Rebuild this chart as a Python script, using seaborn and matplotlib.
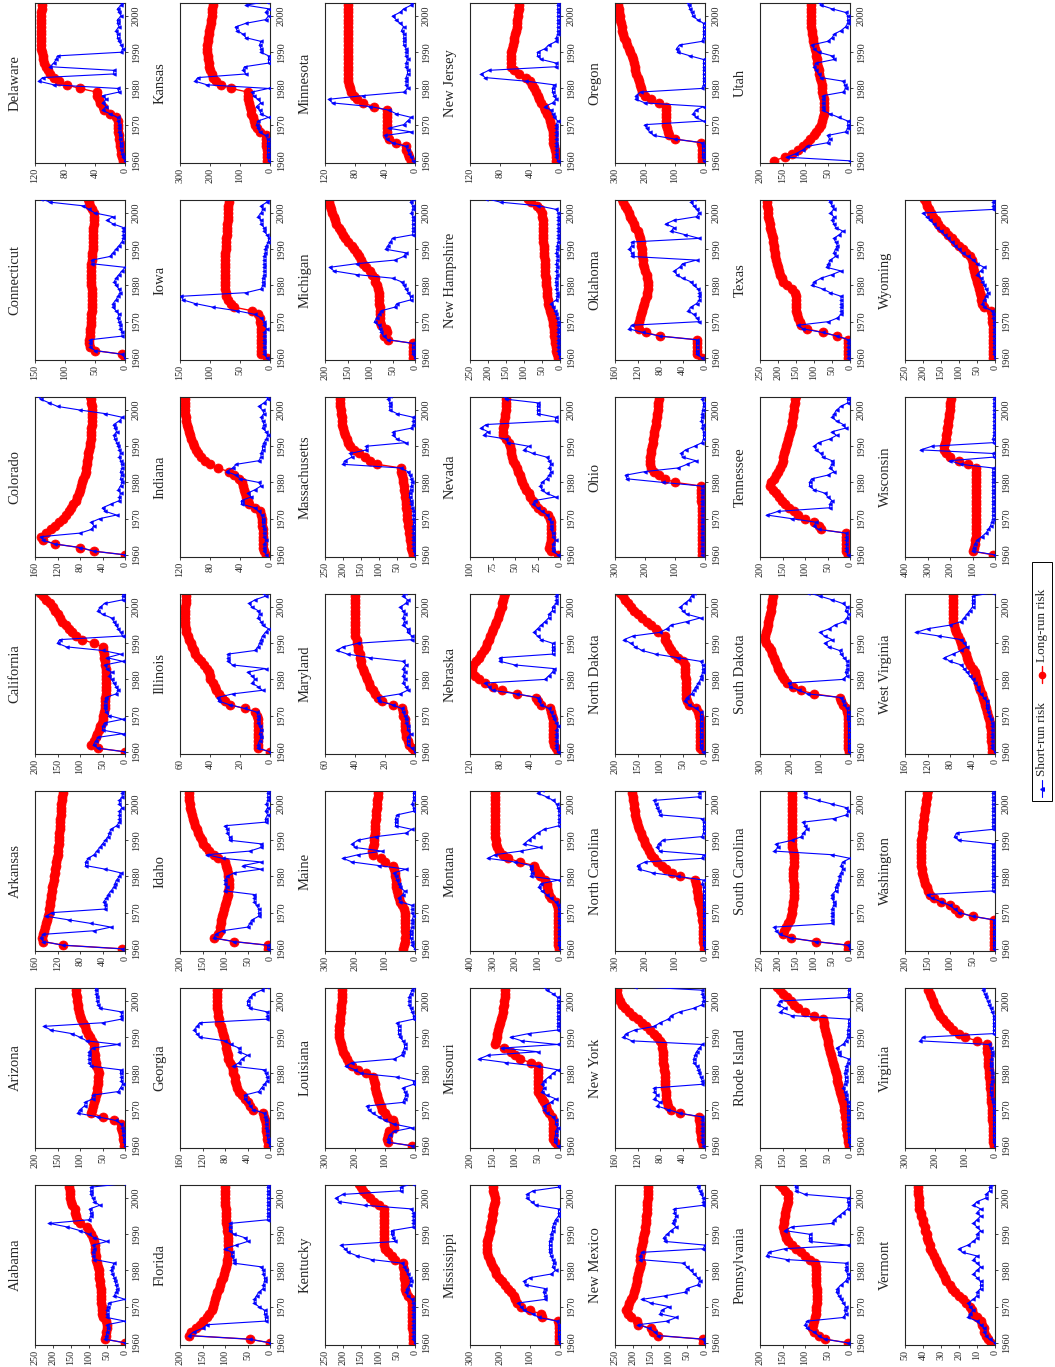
import numpy as np
import pandas as pd
import matplotlib
matplotlib.use("Agg")
import matplotlib.pyplot as plt
from matplotlib.lines import Line2D
from matplotlib.patches import Rectangle
import seaborn as sns

years = list(range(1960, 2005))

# ---- annual risk series by state (1960-2004) ----
alabama_short = [0, 55, 52, 50, 48, 50, 0, 50, 50, 50, 48, 45, 0, 30, 25, 22, 25, 28, 30, 35, 38, 35, 30, 85, 88, 90, 85, 88, 50, 85, 100, 125, 160, 210, 100, 95, 95, 98, 70, 85, 90, 95, 95, 95, 0]
alabama_long = [0, 55, 52, 52, 50, 50, 52, 62, 63, 64, 65, 66, 67, 68, 68, 68, 69, 70, 71, 72, 73, 75, 78, 80, 80, 82, 83, 84, 85, 88, 95, 100, 105, 125, 132, 135, 138, 140, 148, 150, 152, 153, 154, 155, 155]
arizona_short = [0, 2, 3, 4, 5, 6, 8, 20, 60, 105, 100, 90, 88, 72, 72, 15, 10, 5, 8, 8, 10, 10, 75, 80, 80, 80, 80, 72, 15, 85, 100, 118, 165, 180, 50, 8, 8, 8, 55, 60, 62, 63, 64, 65, 66]
arizona_long = [2, 3, 4, 5, 6, 8, 10, 25, 50, 75, 73, 71, 69, 67, 65, 63, 62, 61, 60, 59, 58, 60, 64, 65, 66, 67, 68, 69, 70, 74, 78, 82, 86, 90, 94, 97, 100, 102, 104, 105, 106, 107, 108, 109, 110]
arkansas_short = [5, 110, 145, 150, 145, 55, 25, 60, 100, 140, 130, 35, 35, 38, 33, 30, 25, 20, 18, 15, 10, 8, 35, 70, 70, 65, 55, 50, 45, 40, 35, 30, 28, 25, 15, 10, 10, 10, 10, 5, 10, 10, 5, 5, 5]
arkansas_long = [5, 110, 145, 148, 146, 144, 142, 140, 138, 137, 136, 135, 134, 133, 132, 131, 130, 129, 128, 127, 126, 125, 124, 123, 122, 121, 120, 119, 119, 118, 118, 117, 117, 116, 116, 115, 115, 114, 114, 113, 113, 112, 112, 111, 111]
california_short = [0, 60, 70, 65, 60, 5, 50, 50, 45, 5, 35, 42, 45, 45, 44, 43, 20, 15, 20, 25, 30, 35, 30, 40, 45, 5, 40, 10, 50, 130, 150, 145, 5, 10, 15, 20, 25, 30, 50, 60, 55, 45, 5, 5, 5]
california_long = [0, 60, 75, 70, 65, 62, 58, 55, 52, 50, 48, 46, 45, 45, 44, 44, 43, 43, 42, 42, 42, 42, 42, 43, 44, 45, 46, 47, 48, 50, 70, 95, 110, 118, 125, 132, 140, 145, 150, 155, 160, 167, 175, 182, 190]
colorado_short = [0, 55, 80, 125, 145, 150, 80, 60, 55, 60, 45, 15, 35, 40, 25, 10, 10, 8, 12, 8, 5, 8, 6, 8, 5, 6, 8, 10, 8, 10, 12, 15, 18, 20, 15, 18, 20, 10, 5, 35, 80, 120, 135, 150, 155]
colorado_long = [0, 55, 80, 125, 145, 150, 140, 132, 124, 117, 111, 105, 100, 96, 92, 88, 85, 82, 80, 78, 76, 74, 72, 70, 69, 68, 67, 66, 65, 64, 63, 62, 61, 61, 60, 60, 59, 59, 58, 58, 58, 59, 60, 61, 62]
connecticut_short = [0, 5, 50, 58, 58, 58, 5, 5, 8, 8, 10, 12, 10, 15, 20, 20, 15, 12, 8, 10, 15, 18, 15, 10, 5, 0, 55, 55, 25, 20, 15, 10, 5, 3, 3, 3, 3, 20, 30, 20, 50, 60, 70, 125, 140]
connecticut_long = [0, 5, 50, 58, 60, 60, 59, 58, 58, 57, 57, 56, 56, 55, 55, 55, 55, 55, 55, 55, 56, 56, 56, 56, 56, 56, 56, 55, 55, 55, 54, 54, 54, 53, 53, 53, 53, 52, 52, 52, 52, 55, 58, 60, 62]
delaware_short = [0, 3, 4, 5, 6, 6, 7, 7, 8, 8, 8, 9, 10, 20, 30, 25, 30, 25, 30, 8, 10, 95, 115, 110, 15, 15, 100, 95, 92, 90, 5, 3, 5, 8, 10, 10, 12, 8, 10, 10, 5, 8, 10, 5, 5]
delaware_long = [3, 4, 5, 6, 7, 7, 8, 8, 9, 9, 9, 10, 12, 20, 28, 30, 33, 35, 37, 38, 60, 78, 88, 95, 100, 103, 106, 108, 109, 110, 111, 112, 112, 112, 112, 112, 112, 112, 112, 112, 112, 112, 111, 111, 111]
florida_short = [0, 45, 180, 170, 150, 140, 10, 10, 12, 12, 25, 35, 35, 30, 25, 15, 15, 12, 12, 15, 15, 20, 80, 80, 85, 85, 100, 75, 50, 55, 80, 90, 90, 88, 5, 5, 5, 5, 5, 5, 5, 5, 5, 5, 5]
florida_long = [0, 45, 180, 175, 165, 155, 148, 140, 135, 130, 127, 125, 122, 120, 117, 114, 111, 108, 105, 103, 100, 98, 96, 95, 94, 93, 93, 93, 93, 93, 94, 95, 96, 97, 98, 98, 98, 98, 99, 99, 99, 99, 99, 99, 99]
georgia_short = [0, 3, 4, 5, 6, 7, 7, 8, 9, 10, 30, 35, 40, 45, 45, 20, 15, 10, 5, 5, 8, 10, 65, 55, 50, 40, 55, 55, 70, 80, 125, 130, 135, 130, 125, 5, 5, 5, 35, 40, 40, 35, 30, 15, 5]
georgia_long = [3, 4, 5, 6, 7, 8, 8, 9, 10, 12, 30, 35, 40, 45, 50, 55, 58, 60, 62, 63, 65, 66, 68, 72, 74, 75, 76, 78, 79, 80, 82, 84, 86, 88, 90, 91, 92, 93, 94, 94, 94, 94, 94, 94, 93]
idaho_short = [5, 5, 80, 125, 120, 105, 50, 45, 40, 25, 25, 25, 30, 35, 35, 35, 100, 95, 100, 100, 95, 80, 20, 60, 20, 105, 140, 45, 20, 20, 90, 90, 95, 95, 100, 10, 10, 5, 10, 5, 8, 5, 5, 5, 5]
idaho_long = [5, 5, 80, 125, 115, 112, 112, 110, 108, 106, 104, 102, 100, 98, 96, 94, 93, 92, 92, 92, 93, 94, 95, 97, 100, 115, 125, 135, 142, 148, 152, 155, 160, 163, 166, 170, 172, 174, 176, 177, 178, 179, 180, 180, 180]
illinois_short = [0, 8, 8, 7, 6, 7, 6, 7, 8, 8, 8, 9, 17, 27, 34, 35, 25, 5, 8, 12, 10, 12, 15, 3, 25, 28, 28, 28, 10, 8, 7, 6, 5, 3, 1, 5, 6, 8, 7, 8, 12, 14, 10, 3, 5]
illinois_long = [0, 8, 8, 8, 8, 8, 8, 8, 8, 8, 9, 10, 17, 27, 30, 32, 34, 36, 37, 38, 40, 40, 41, 42, 44, 46, 48, 50, 51, 52, 53, 54, 55, 56, 56, 57, 57, 57, 57, 57, 57, 56, 56, 56, 56]
indiana_short = [5, 8, 8, 8, 5, 8, 8, 8, 9, 10, 10, 11, 15, 20, 38, 38, 25, 30, 20, 12, 15, 40, 45, 58, 50, 45, 15, 12, 12, 10, 10, 8, 5, 3, 5, 10, 8, 10, 12, 8, 10, 15, 8, 3, 5]
indiana_long = [5, 8, 9, 9, 10, 10, 10, 10, 11, 11, 11, 12, 13, 20, 28, 30, 32, 33, 35, 36, 38, 42, 48, 55, 70, 80, 87, 92, 96, 99, 101, 103, 105, 107, 108, 110, 111, 112, 112, 113, 113, 113, 113, 113, 113]
iowa_short = [5, 10, 10, 10, 10, 10, 10, 10, 5, 10, 10, 15, 25, 55, 95, 125, 145, 148, 40, 15, 12, 12, 12, 10, 10, 10, 10, 10, 10, 8, 8, 6, 3, 2, 5, 10, 10, 15, 15, 20, 15, 12, 15, 5, 5]
iowa_long = [5, 15, 15, 15, 15, 15, 15, 15, 15, 15, 16, 17, 20, 30, 60, 65, 70, 73, 74, 75, 75, 75, 75, 75, 75, 75, 75, 75, 75, 75, 74, 74, 73, 73, 72, 72, 71, 71, 70, 70, 70, 70, 70, 69, 69]
kansas_short = [5, 8, 8, 8, 8, 8, 8, 15, 35, 40, 45, 40, 5, 30, 35, 45, 30, 40, 55, 60, 5, 210, 250, 240, 80, 90, 85, 5, 5, 5, 30, 30, 35, 30, 80, 90, 110, 115, 80, 15, 5, 15, 5, 80, 10]
kansas_long = [10, 10, 10, 10, 12, 12, 12, 15, 35, 45, 50, 55, 58, 62, 65, 68, 70, 72, 72, 74, 130, 165, 180, 190, 195, 200, 203, 205, 207, 208, 210, 210, 210, 208, 207, 205, 203, 200, 198, 196, 194, 193, 192, 190, 190]
kentucky_short = [0, 5, 5, 5, 5, 5, 5, 5, 5, 5, 5, 5, 8, 20, 25, 22, 15, 12, 15, 20, 25, 30, 35, 120, 160, 185, 195, 205, 55, 60, 65, 65, 5, 5, 5, 5, 5, 10, 140, 210, 220, 200, 40, 40, 5]
kentucky_long = [5, 6, 6, 6, 7, 7, 7, 7, 7, 7, 7, 7, 10, 20, 25, 27, 28, 29, 30, 30, 31, 32, 33, 55, 65, 75, 82, 85, 86, 87, 87, 87, 86, 86, 86, 86, 86, 86, 100, 115, 125, 135, 145, 150, 155]
louisiana_short = [10, 90, 90, 85, 70, 10, 70, 100, 120, 140, 155, 160, 40, 35, 30, 35, 40, 5, 5, 60, 180, 200, 230, 210, 70, 45, 40, 35, 35, 40, 50, 55, 55, 55, 60, 5, 5, 10, 15, 20, 20, 20, 15, 10, 5]
louisiana_long = [10, 90, 95, 90, 88, 70, 70, 75, 95, 100, 110, 115, 120, 125, 128, 130, 132, 135, 138, 140, 165, 190, 210, 220, 228, 235, 240, 245, 248, 250, 252, 255, 253, 252, 251, 250, 249, 248, 247, 246, 245, 245, 244, 244, 243]
maine_short = [0, 10, 10, 15, 15, 15, 10, 10, 10, 5, 10, 10, 10, 50, 55, 40, 35, 50, 55, 60, 65, 70, 30, 120, 210, 240, 190, 110, 200, 210, 190, 130, 30, 10, 65, 65, 65, 60, 5, 5, 10, 5, 5, 5, 5]
maine_long = [40, 38, 35, 32, 30, 32, 35, 33, 32, 33, 35, 38, 45, 50, 55, 58, 60, 62, 64, 65, 66, 68, 70, 72, 100, 115, 140, 142, 140, 138, 137, 136, 135, 134, 133, 132, 131, 130, 129, 128, 127, 126, 125, 125, 124]
maryland_short = [0, 2, 5, 5, 5, 3, 5, 5, 6, 6, 7, 8, 9, 15, 24, 25, 10, 5, 6, 8, 7, 8, 7, 8, 6, 8, 30, 45, 52, 48, 38, 2, 2, 5, 5, 8, 7, 8, 7, 8, 10, 6, 5, 8, 7]
maryland_long = [0, 2, 4, 5, 6, 6, 7, 7, 7, 7, 8, 8, 9, 15, 22, 25, 27, 28, 30, 31, 32, 33, 34, 35, 36, 36, 37, 37, 38, 38, 39, 39, 40, 40, 40, 40, 40, 40, 40, 40, 40, 40, 40, 40, 40]
massachusetts_short = [0, 3, 5, 5, 5, 5, 5, 5, 5, 3, 5, 5, 5, 8, 10, 12, 15, 15, 12, 10, 8, 10, 15, 20, 40, 200, 195, 175, 180, 135, 135, 25, 50, 60, 60, 10, 5, 5, 5, 50, 70, 70, 70, 75, 70]
massachusetts_long = [5, 7, 10, 12, 14, 15, 17, 18, 19, 20, 21, 22, 23, 24, 25, 26, 27, 28, 30, 31, 32, 34, 36, 38, 40, 105, 125, 140, 155, 170, 180, 185, 190, 195, 198, 200, 202, 203, 204, 205, 206, 207, 207, 208, 208]
michigan_short = [0, 5, 5, 5, 5, 60, 70, 75, 78, 80, 90, 85, 80, 75, 45, 40, 10, 10, 15, 20, 25, 30, 50, 130, 180, 190, 130, 45, 25, 20, 65, 60, 55, 50, 5, 5, 5, 5, 5, 5, 8, 5, 5, 10, 5]
michigan_long = [5, 5, 5, 5, 5, 60, 70, 62, 65, 75, 78, 78, 78, 78, 78, 79, 80, 80, 81, 82, 85, 88, 90, 95, 100, 110, 115, 120, 125, 130, 135, 140, 150, 155, 160, 165, 170, 175, 178, 181, 184, 187, 190, 192, 195]
minnesota_short = [3, 5, 8, 10, 12, 30, 38, 40, 5, 35, 15, 10, 5, 25, 35, 60, 110, 115, 70, 15, 10, 12, 12, 12, 10, 10, 12, 12, 10, 12, 12, 12, 15, 15, 15, 15, 18, 15, 20, 25, 30, 20, 15, 5, 5]
minnesota_long = [5, 8, 10, 12, 12, 25, 35, 37, 37, 37, 38, 38, 38, 38, 38, 55, 70, 78, 82, 85, 87, 88, 89, 90, 90, 90, 90, 90, 90, 90, 90, 90, 90, 90, 90, 90, 90, 90, 90, 90, 90, 90, 90, 90, 90]
mississippi_short = [0, 5, 5, 5, 5, 5, 10, 70, 90, 120, 130, 140, 50, 50, 55, 50, 115, 120, 100, 30, 15, 25, 20, 25, 30, 35, 35, 35, 35, 30, 30, 25, 25, 20, 15, 5, 5, 5, 80, 95, 110, 110, 90, 5, 5]
mississippi_long = [5, 5, 5, 5, 5, 5, 8, 60, 65, 100, 130, 145, 150, 155, 165, 175, 185, 195, 205, 212, 218, 225, 230, 235, 240, 242, 243, 243, 242, 240, 238, 235, 232, 230, 228, 226, 224, 222, 220, 218, 218, 220, 222, 224, 225]
missouri_short = [5, 12, 12, 10, 10, 5, 10, 10, 15, 30, 35, 35, 20, 10, 30, 40, 35, 40, 35, 25, 15, 5, 50, 120, 180, 160, 50, 130, 5, 85, 110, 70, 5, 5, 5, 5, 5, 5, 5, 5, 5, 5, 15, 30, 35]
missouri_long = [5, 12, 15, 15, 15, 15, 15, 15, 18, 25, 30, 32, 35, 40, 45, 48, 50, 50, 50, 50, 50, 50, 50, 65, 90, 100, 110, 125, 145, 143, 141, 139, 137, 135, 133, 131, 129, 127, 126, 125, 124, 123, 122, 122, 122]
montana_short = [0, 5, 5, 5, 5, 5, 5, 5, 5, 5, 5, 5, 10, 20, 40, 60, 80, 95, 85, 5, 130, 125, 130, 130, 200, 320, 290, 175, 90, 160, 140, 120, 100, 70, 5, 5, 5, 5, 5, 10, 15, 30, 60, 100, 80]
montana_long = [5, 8, 8, 9, 9, 10, 10, 10, 10, 10, 10, 10, 12, 20, 40, 50, 55, 58, 60, 65, 90, 100, 110, 115, 180, 230, 255, 270, 280, 283, 285, 287, 288, 289, 290, 290, 290, 290, 290, 290, 290, 290, 290, 290, 290]
nebraska_short = [3, 5, 5, 5, 5, 5, 5, 3, 5, 8, 10, 12, 15, 25, 28, 30, 58, 90, 95, 100, 20, 15, 10, 8, 60, 80, 80, 10, 10, 10, 10, 25, 30, 35, 30, 25, 20, 15, 15, 10, 10, 5, 5, 5, 5]
nebraska_long = [3, 5, 8, 10, 10, 10, 10, 10, 10, 10, 11, 12, 14, 25, 30, 32, 58, 78, 90, 100, 108, 113, 117, 118, 116, 112, 108, 105, 102, 99, 97, 95, 93, 91, 89, 87, 85, 83, 82, 80, 78, 77, 76, 75, 74]
nevada_short = [2, 8, 8, 8, 5, 8, 8, 10, 10, 10, 12, 14, 20, 25, 30, 28, 5, 15, 20, 22, 20, 15, 12, 10, 12, 10, 12, 15, 30, 40, 35, 58, 60, 85, 80, 88, 82, 5, 5, 25, 25, 25, 25, 60, 62]
nevada_long = [2, 10, 12, 11, 10, 10, 10, 10, 10, 10, 11, 13, 20, 25, 28, 30, 33, 35, 38, 40, 42, 43, 45, 47, 48, 50, 52, 53, 54, 55, 56, 57, 60, 63, 63, 63, 62, 62, 61, 61, 60, 60, 60, 60, 60]
new_hampshire_short = [0, 3, 5, 5, 5, 5, 5, 5, 5, 5, 5, 8, 10, 15, 20, 25, 10, 8, 8, 10, 10, 12, 10, 8, 10, 8, 10, 8, 8, 10, 8, 8, 5, 5, 5, 5, 5, 5, 5, 5, 5, 10, 60, 165, 205]
new_hampshire_long = [5, 8, 10, 12, 14, 15, 16, 17, 18, 19, 20, 22, 25, 28, 30, 32, 34, 35, 36, 37, 38, 39, 40, 41, 42, 42, 43, 43, 44, 44, 45, 45, 46, 46, 47, 47, 48, 48, 48, 49, 49, 55, 65, 80, 90]
new_jersey_short = [3, 5, 5, 5, 5, 5, 5, 5, 5, 5, 5, 3, 8, 10, 12, 20, 10, 5, 8, 10, 10, 8, 45, 100, 105, 95, 5, 5, 25, 30, 30, 20, 15, 5, 5, 3, 3, 3, 3, 3, 3, 3, 3, 3, 3]
new_jersey_long = [5, 5, 6, 7, 8, 9, 10, 10, 10, 11, 12, 13, 15, 18, 20, 22, 25, 28, 30, 32, 35, 37, 40, 45, 55, 62, 65, 66, 66, 66, 65, 64, 63, 62, 61, 60, 59, 58, 57, 57, 56, 56, 55, 55, 55]
new_mexico_short = [0, 5, 130, 140, 155, 185, 105, 80, 125, 120, 100, 150, 175, 110, 55, 50, 20, 15, 20, 30, 40, 50, 60, 180, 180, 175, 5, 0, 110, 115, 105, 95, 80, 90, 85, 80, 85, 85, 5, 5, 5, 10, 15, 20, 20]
new_mexico_long = [5, 5, 130, 145, 150, 185, 190, 205, 215, 220, 215, 210, 205, 200, 198, 195, 192, 190, 188, 185, 183, 180, 178, 180, 180, 178, 177, 175, 173, 171, 170, 168, 167, 165, 164, 163, 162, 161, 160, 160, 159, 158, 158, 157, 157]
new_york_short = [3, 5, 5, 5, 5, 5, 5, 5, 5, 45, 65, 85, 80, 90, 85, 90, 90, 5, 5, 8, 10, 12, 15, 20, 20, 18, 15, 10, 5, 130, 145, 140, 125, 90, 80, 65, 60, 45, 20, 5, 3, 3, 5, 5, 125]
new_york_long = [3, 5, 8, 8, 9, 9, 9, 10, 10, 45, 60, 65, 68, 69, 70, 70, 71, 71, 72, 72, 72, 73, 73, 74, 74, 75, 75, 76, 77, 80, 85, 90, 97, 105, 112, 120, 128, 135, 142, 147, 151, 154, 156, 157, 157]
north_carolina_short = [0, 5, 5, 5, 5, 5, 5, 5, 5, 5, 5, 5, 5, 5, 5, 5, 5, 5, 10, 5, 90, 175, 220, 225, 200, 10, 5, 150, 160, 155, 140, 10, 5, 5, 5, 5, 10, 150, 155, 160, 165, 170, 20, 20, 15]
north_carolina_long = [5, 5, 6, 6, 7, 7, 8, 8, 9, 10, 12, 15, 18, 20, 22, 24, 26, 28, 30, 32, 85, 110, 130, 145, 160, 170, 180, 188, 195, 200, 205, 210, 215, 220, 225, 228, 230, 232, 234, 236, 238, 240, 241, 242, 243]
north_dakota_short = [5, 10, 10, 10, 10, 10, 10, 10, 10, 10, 10, 10, 20, 35, 45, 40, 30, 25, 20, 15, 10, 8, 5, 5, 5, 10, 60, 110, 140, 155, 165, 180, 160, 100, 85, 75, 40, 10, 40, 50, 55, 45, 35, 30, 25]
north_dakota_long = [5, 12, 12, 12, 12, 12, 12, 12, 12, 12, 13, 15, 20, 35, 40, 42, 42, 43, 43, 43, 43, 44, 44, 45, 45, 50, 60, 68, 75, 80, 85, 88, 90, 105, 110, 120, 130, 140, 150, 158, 165, 172, 178, 183, 188]
ohio_short = [10, 10, 10, 10, 10, 10, 10, 10, 10, 10, 10, 10, 10, 10, 10, 10, 10, 10, 10, 10, 140, 260, 265, 200, 90, 60, 30, 75, 80, 65, 35, 10, 5, 5, 5, 10, 8, 12, 10, 10, 8, 5, 5, 10, 5]
ohio_long = [10, 10, 10, 10, 10, 10, 10, 10, 10, 10, 11, 11, 11, 11, 11, 12, 12, 12, 12, 12, 100, 135, 155, 170, 180, 185, 185, 183, 181, 179, 177, 175, 173, 171, 169, 167, 165, 163, 161, 160, 158, 157, 156, 155, 154]
oklahoma_short = [5, 15, 15, 15, 15, 15, 80, 110, 135, 130, 10, 15, 20, 30, 25, 15, 10, 10, 10, 12, 20, 25, 40, 50, 55, 45, 40, 15, 130, 130, 135, 130, 130, 10, 35, 60, 55, 70, 55, 15, 10, 15, 20, 25, 20]
oklahoma_long = [5, 15, 15, 15, 15, 15, 80, 105, 118, 120, 118, 116, 114, 112, 110, 108, 106, 104, 103, 102, 102, 102, 103, 104, 106, 108, 110, 111, 112, 112, 112, 113, 114, 115, 117, 120, 124, 127, 130, 133, 136, 139, 142, 145, 148]
oregon_short = [5, 8, 8, 8, 8, 10, 100, 170, 185, 195, 200, 5, 30, 40, 30, 5, 200, 230, 230, 215, 10, 5, 5, 5, 5, 5, 5, 5, 5, 50, 90, 95, 85, 10, 5, 5, 5, 5, 5, 25, 40, 45, 50, 55, 60]
oregon_long = [10, 10, 10, 10, 10, 12, 100, 120, 125, 128, 130, 130, 130, 130, 130, 130, 155, 180, 200, 210, 215, 218, 220, 225, 230, 232, 235, 238, 240, 245, 250, 255, 260, 265, 270, 273, 276, 278, 280, 282, 284, 286, 288, 290, 292]
pennsylvania_short = [5, 55, 70, 80, 95, 100, 95, 15, 10, 12, 10, 15, 20, 25, 30, 28, 20, 10, 5, 5, 10, 8, 10, 140, 185, 180, 145, 5, 90, 90, 90, 145, 130, 40, 35, 25, 15, 5, 3, 5, 5, 100, 120, 120, 125]
pennsylvania_long = [5, 55, 70, 80, 85, 83, 80, 78, 76, 75, 75, 74, 74, 74, 74, 74, 75, 75, 75, 75, 75, 76, 78, 90, 100, 110, 120, 130, 138, 143, 145, 147, 148, 147, 146, 145, 144, 142, 140, 138, 137, 138, 145, 152, 158]
rhode_island_short = [0, 3, 3, 3, 4, 4, 4, 5, 5, 5, 5, 5, 5, 8, 10, 12, 15, 12, 10, 10, 12, 10, 8, 5, 3, 25, 25, 30, 15, 10, 5, 5, 5, 3, 3, 3, 130, 155, 145, 160, 155, 5, 3, 3, 3]
rhode_island_long = [3, 4, 5, 6, 7, 8, 9, 10, 11, 12, 13, 14, 16, 18, 20, 22, 24, 26, 28, 30, 32, 34, 36, 38, 40, 42, 44, 46, 48, 50, 52, 54, 56, 57, 58, 60, 80, 100, 115, 125, 132, 140, 148, 155, 162]
south_carolina_short = [0, 5, 95, 165, 195, 205, 210, 50, 50, 50, 50, 50, 45, 45, 50, 50, 40, 40, 35, 30, 30, 25, 20, 25, 20, 0, 50, 210, 200, 205, 160, 135, 130, 120, 125, 130, 45, 10, 5, 10, 50, 90, 125, 125, 130]
south_carolina_long = [5, 5, 95, 165, 185, 182, 178, 172, 168, 164, 162, 160, 158, 157, 155, 155, 155, 155, 156, 157, 158, 158, 157, 156, 155, 155, 155, 158, 160, 160, 160, 160, 160, 160, 160, 160, 160, 160, 160, 160, 160, 160, 160, 160, 160]
south_dakota_short = [5, 5, 5, 5, 5, 5, 5, 5, 5, 8, 8, 8, 10, 20, 25, 30, 140, 170, 200, 205, 25, 10, 15, 10, 10, 10, 20, 30, 35, 70, 85, 60, 85, 100, 70, 50, 20, 10, 5, 15, 10, 25, 60, 100, 140]
south_dakota_long = [5, 8, 8, 8, 8, 8, 8, 8, 8, 8, 8, 10, 15, 25, 30, 35, 120, 165, 190, 210, 220, 228, 235, 240, 245, 250, 255, 260, 265, 270, 280, 285, 283, 280, 278, 275, 272, 270, 268, 265, 263, 261, 260, 258, 256]
tennessee_short = [5, 8, 8, 8, 8, 8, 8, 70, 80, 75, 130, 185, 160, 45, 45, 40, 50, 55, 80, 90, 90, 85, 50, 35, 45, 40, 40, 60, 65, 75, 80, 70, 45, 30, 40, 10, 15, 30, 40, 35, 30, 20, 5, 5, 5]
tennessee_long = [5, 8, 8, 8, 8, 8, 10, 65, 70, 80, 100, 115, 125, 135, 145, 152, 158, 165, 172, 178, 175, 170, 165, 160, 156, 152, 150, 148, 146, 144, 142, 140, 138, 136, 134, 132, 130, 128, 127, 126, 125, 124, 123, 122, 121]
texas_short = [5, 5, 5, 5, 5, 5, 35, 75, 130, 145, 60, 35, 25, 25, 25, 25, 25, 25, 55, 75, 105, 100, 80, 50, 25, 65, 60, 55, 40, 45, 40, 35, 40, 45, 30, 20, 40, 45, 50, 45, 55, 45, 50, 55, 60]
texas_long = [5, 5, 5, 5, 5, 5, 35, 75, 120, 135, 140, 145, 148, 150, 150, 150, 150, 150, 152, 160, 175, 185, 190, 195, 198, 200, 203, 205, 207, 208, 210, 212, 214, 215, 217, 219, 221, 223, 225, 227, 228, 229, 230, 230, 230]
utah_short = [0, 140, 120, 105, 95, 50, 45, 50, 10, 5, 5, 5, 25, 45, 60, 60, 60, 60, 60, 15, 10, 12, 15, 65, 70, 75, 80, 75, 35, 40, 70, 80, 85, 50, 40, 35, 20, 10, 5, 5, 5, 10, 40, 65, 70]
utah_long = [170, 145, 130, 115, 105, 95, 88, 80, 75, 70, 65, 62, 60, 58, 57, 57, 58, 58, 60, 62, 63, 63, 64, 66, 68, 70, 72, 73, 74, 75, 76, 78, 80, 82, 83, 84, 85, 86, 86, 87, 87, 87, 87, 87, 87]
vermont_short = [0, 3, 5, 6, 6, 8, 10, 15, 14, 12, 14, 15, 12, 10, 10, 8, 8, 8, 10, 12, 10, 8, 10, 12, 10, 18, 20, 15, 12, 10, 10, 8, 10, 12, 10, 8, 10, 8, 12, 10, 5, 5, 3, 3, 2]
vermont_long = [2, 4, 5, 6, 6, 7, 8, 10, 12, 13, 14, 16, 18, 20, 22, 24, 25, 27, 28, 29, 30, 31, 32, 33, 34, 35, 36, 36, 37, 38, 38, 39, 39, 40, 40, 41, 41, 42, 42, 42, 42, 43, 43, 43, 43]
virginia_short = [0, 5, 5, 5, 5, 5, 5, 5, 5, 5, 5, 5, 8, 10, 12, 15, 15, 12, 10, 10, 10, 12, 15, 15, 12, 10, 10, 15, 20, 250, 240, 5, 5, 5, 5, 5, 5, 10, 15, 20, 25, 30, 35, 40, 40]
virginia_long = [5, 6, 6, 7, 7, 8, 8, 9, 9, 10, 10, 11, 12, 13, 14, 15, 16, 17, 18, 19, 20, 21, 22, 23, 24, 25, 26, 27, 28, 60, 100, 120, 140, 155, 165, 175, 182, 190, 197, 203, 208, 213, 218, 222, 225]
washington_short = [3, 3, 3, 3, 3, 3, 3, 3, 3, 50, 80, 90, 100, 120, 140, 150, 5, 5, 5, 5, 5, 5, 5, 5, 5, 5, 5, 5, 5, 5, 80, 90, 85, 5, 5, 5, 5, 5, 5, 5, 5, 5, 5, 5, 5]
washington_long = [3, 3, 3, 3, 3, 3, 3, 3, 3, 50, 80, 90, 100, 120, 135, 145, 150, 152, 155, 158, 160, 162, 163, 164, 165, 165, 165, 165, 165, 165, 164, 163, 162, 161, 160, 159, 158, 157, 156, 155, 154, 153, 152, 151, 150]
west_virginia_short = [0, 5, 5, 5, 5, 5, 5, 5, 5, 8, 10, 12, 15, 15, 15, 20, 25, 30, 30, 35, 40, 45, 50, 55, 60, 80, 90, 75, 60, 50, 55, 60, 100, 140, 120, 80, 60, 55, 50, 45, 40, 40, 40, 40, 3]
west_virginia_long = [5, 6, 6, 7, 7, 8, 8, 9, 9, 10, 12, 14, 16, 18, 20, 22, 24, 26, 28, 30, 32, 34, 36, 40, 45, 48, 50, 52, 55, 58, 60, 62, 65, 70, 72, 73, 74, 75, 75, 75, 75, 75, 75, 75, 75]
wisconsin_short = [0, 100, 95, 90, 80, 60, 40, 30, 20, 15, 10, 10, 10, 10, 10, 10, 10, 10, 10, 10, 10, 10, 10, 10, 10, 150, 200, 5, 10, 330, 280, 5, 10, 5, 5, 5, 5, 5, 5, 5, 5, 5, 5, 5, 5]
wisconsin_long = [10, 100, 95, 90, 88, 85, 85, 85, 85, 85, 85, 85, 85, 85, 85, 85, 85, 85, 85, 85, 85, 85, 85, 85, 85, 120, 160, 200, 220, 225, 225, 222, 220, 218, 215, 212, 210, 208, 206, 204, 202, 200, 198, 196, 194]
wyoming_short = [0, 3, 3, 3, 3, 3, 3, 3, 3, 3, 3, 5, 5, 8, 30, 35, 30, 25, 20, 25, 30, 35, 40, 50, 40, 30, 50, 60, 75, 90, 100, 110, 120, 130, 140, 150, 160, 170, 180, 190, 200, 5, 5, 5, 5]
wyoming_long = [5, 5, 5, 5, 5, 5, 5, 6, 6, 6, 7, 8, 9, 10, 30, 35, 38, 40, 42, 45, 48, 50, 52, 55, 58, 60, 62, 65, 70, 80, 90, 100, 110, 120, 130, 140, 150, 158, 165, 172, 178, 183, 188, 193, 198]

states = ["Alabama", "Arizona", "Arkansas", "California", "Colorado", "Connecticut", "Delaware",
          "Florida", "Georgia", "Idaho", "Illinois", "Indiana", "Iowa", "Kansas",
          "Kentucky", "Louisiana", "Maine", "Maryland", "Massachusetts", "Michigan", "Minnesota",
          "Mississippi", "Missouri", "Montana", "Nebraska", "Nevada", "New Hampshire", "New Jersey",
          "New Mexico", "New York", "North Carolina", "North Dakota", "Ohio", "Oklahoma", "Oregon",
          "Pennsylvania", "Rhode Island", "South Carolina", "South Dakota", "Tennessee", "Texas", "Utah",
          "Vermont", "Virginia", "Washington", "West Virginia", "Wisconsin", "Wyoming"]

axis_top = [250, 200, 160, 200, 160, 150, 120,
            200, 160, 200, 60, 120, 150, 300,
            250, 300, 300, 60, 250, 200, 120,
            300, 200, 400, 120, 100, 250, 120,
            250, 160, 300, 200, 300, 160, 300,
            200, 200, 250, 300, 200, 250, 200,
            50, 300, 200, 160, 400, 250]
tick_step = [50, 50, 40, 50, 40, 50, 40,
             50, 40, 50, 20, 40, 50, 100,
             50, 100, 100, 20, 50, 50, 40,
             100, 50, 100, 40, 25, 50, 40,
             50, 40, 100, 50, 100, 40, 100,
             50, 50, 50, 100, 50, 50, 50,
             10, 100, 50, 40, 100, 50]
year_ticks = [1960, 1970, 1980, 1990, 2000]

short_series = [alabama_short, arizona_short, arkansas_short, california_short, colorado_short,
                connecticut_short, delaware_short, florida_short, georgia_short, idaho_short,
                illinois_short, indiana_short, iowa_short, kansas_short, kentucky_short,
                louisiana_short, maine_short, maryland_short, massachusetts_short, michigan_short,
                minnesota_short, mississippi_short, missouri_short, montana_short, nebraska_short,
                nevada_short, new_hampshire_short, new_jersey_short, new_mexico_short, new_york_short,
                north_carolina_short, north_dakota_short, ohio_short, oklahoma_short, oregon_short,
                pennsylvania_short, rhode_island_short, south_carolina_short, south_dakota_short,
                tennessee_short, texas_short, utah_short, vermont_short, virginia_short,
                washington_short, west_virginia_short, wisconsin_short, wyoming_short]
long_series = [alabama_long, arizona_long, arkansas_long, california_long, colorado_long,
               connecticut_long, delaware_long, florida_long, georgia_long, idaho_long,
               illinois_long, indiana_long, iowa_long, kansas_long, kentucky_long,
               louisiana_long, maine_long, maryland_long, massachusetts_long, michigan_long,
               minnesota_long, mississippi_long, missouri_long, montana_long, nebraska_long,
               nevada_long, new_hampshire_long, new_jersey_long, new_mexico_long, new_york_long,
               north_carolina_long, north_dakota_long, ohio_long, oklahoma_long, oregon_long,
               pennsylvania_long, rhode_island_long, south_carolina_long, south_dakota_long,
               tennessee_long, texas_long, utah_long, vermont_long, virginia_long,
               washington_long, west_virginia_long, wisconsin_long, wyoming_long]

sns.set_theme(style="ticks")
plt.rcParams["font.family"] = ["Liberation Serif", "DejaVu Serif"]
plt.rcParams["axes.linewidth"] = 0.8

W, H = 1055, 1367
fig = plt.figure(figsize=(W / 100, H / 100), dpi=100)

# the page is laid out sideways: each panel's value axis runs right-to-left,
# years run bottom-to-top, and every label reads upward
PANEL_W, PANEL_H, PITCH_X, PITCH_Y = 90, 160, 145, 197
for k, state in enumerate(states):
    col, row = divmod(k, 7)
    left = (35 + PITCH_X * col) / W
    bottom = (H - 1345 + PITCH_Y * row) / H
    ax = fig.add_axes([left, bottom, PANEL_W / W, PANEL_H / H])

    df = pd.DataFrame({"year": years, "short": short_series[k], "long": long_series[k]})
    sns.lineplot(data=df, x="long", y="year", orient="y", sort=False, estimator=None,
                 color="red", linewidth=1.0, marker="o", markersize=6.5,
                 markeredgecolor="red", markeredgewidth=0.5, ax=ax, zorder=2)
    sns.lineplot(data=df, x="short", y="year", orient="y", sort=False, estimator=None,
                 color="blue", linewidth=0.8, marker="<", markersize=2.6,
                 markeredgecolor="blue", markeredgewidth=0.4, ax=ax, zorder=3)

    top = axis_top[k]
    ax.set_xlim(top, 0)
    ax.set_ylim(1959.4, 2003.6)
    ax.set_xticks(np.arange(0, top + 1, tick_step[k]))
    ax.set_yticks(year_ticks)
    ax.yaxis.tick_right()
    ax.tick_params(axis="x", labelrotation=90, labelsize=7.3, length=2.5, width=0.6, pad=1.2)
    ax.tick_params(axis="y", labelrotation=90, labelsize=7.5, length=2.5, width=0.6, pad=2.5)
    for lab in ax.get_yticklabels():
        lab.set_verticalalignment("center")
    ax.set_xlabel("")
    ax.set_ylabel("")
    ax.text(-0.22, 0.5, state, rotation=90, transform=ax.transAxes,
            ha="center", va="center", fontsize=10.5)

# legend box along the right edge
lx = 1042 / W
fig.patches.append(Rectangle((1032 / W, (H - 801) / H), 20 / W, 239 / H,
                             transform=fig.transFigure, fill=False,
                             edgecolor="black", linewidth=0.7))
fig.lines.append(Line2D([lx, lx, lx], [(H - 797) / H, (H - 788.5) / H, (H - 780) / H],
                        transform=fig.transFigure, color="blue", linewidth=0.8,
                        marker="<", markersize=2.6, markevery=[1], markeredgecolor="blue"))
fig.text(lx, (H - 776) / H, "Short-run risk", rotation=90, ha="center", va="bottom", fontsize=9.5)
fig.lines.append(Line2D([lx, lx, lx], [(H - 683) / H, (H - 674.5) / H, (H - 666) / H],
                        transform=fig.transFigure, color="red", linewidth=1.0,
                        marker="o", markersize=4.5, markevery=[1], markeredgecolor="red"))
fig.text(lx, (H - 662) / H, "Long-run risk", rotation=90, ha="center", va="bottom", fontsize=9.5)

fig.savefig("out.png", dpi=100)
